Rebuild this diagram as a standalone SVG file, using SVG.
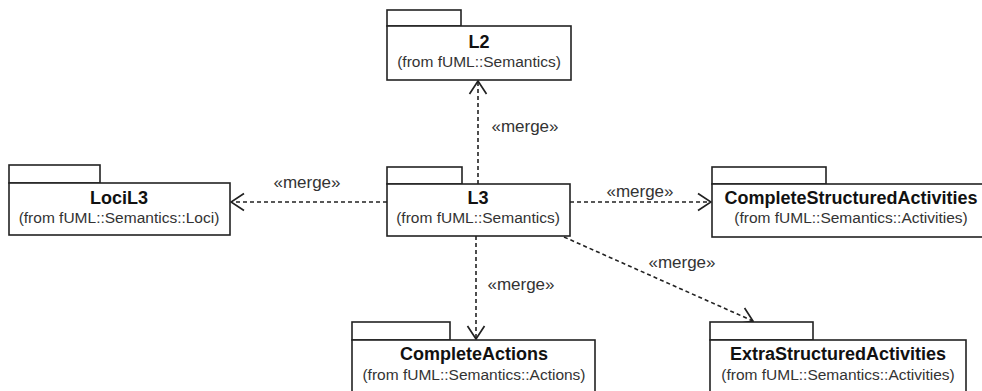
<svg xmlns="http://www.w3.org/2000/svg" width="982" height="391" viewBox="0 0 982 391">
<defs>
<marker id="open" viewBox="0 0 15 20" refX="14" refY="10" markerWidth="15" markerHeight="20" markerUnits="userSpaceOnUse" orient="auto">
<path d="M1,1.5 L14,10 L1,18.5" fill="none" stroke="#222" stroke-width="1.7"/>
</marker>
</defs>
<style>
.box{fill:#fff;stroke:#222;stroke-width:1.6}
.t{font-family:"Liberation Sans",Arial,sans-serif;font-size:18px;font-weight:bold;fill:#111;text-anchor:middle}
.s{font-family:"Liberation Sans",Arial,sans-serif;font-size:15.5px;fill:#333;text-anchor:middle}
.lbl{font-family:"Liberation Sans",Arial,sans-serif;font-size:17px;fill:#333;text-anchor:middle}
.dep{fill:none;stroke:#222;stroke-width:1.6;stroke-dasharray:4 3;marker-end:url(#open)}
</style>
<rect width="982" height="391" fill="#fff"/>
<g id="connectors">
<line class="dep" x1="478" y1="184" x2="478" y2="81"/>
<text class="lbl" x="525" y="132">«merge»</text>
<line class="dep" x1="387" y1="202" x2="231" y2="202"/>
<text class="lbl" x="307" y="188">«merge»</text>
<line class="dep" x1="570" y1="202" x2="711" y2="202"/>
<text class="lbl" x="640" y="197">«merge»</text>
<line class="dep" x1="476" y1="236" x2="476" y2="339"/>
<text class="lbl" x="521" y="290">«merge»</text>
<line class="dep" x1="564" y1="237" x2="753" y2="321"/>
<text class="lbl" x="682" y="268">«merge»</text>
</g>
<g id="L2">
<rect class="box" x="387" y="10" width="74" height="16"/>
<rect class="box" x="387" y="26" width="184" height="54"/>
<text class="t" x="479" y="48">L2</text>
<text class="s" x="479" y="67">(from fUML::Semantics)</text>
</g>
<g id="LociL3">
<rect class="box" x="9" y="165" width="91" height="18"/>
<rect class="box" x="9" y="183" width="221" height="52"/>
<text class="t" x="119" y="204">LociL3</text>
<text class="s" x="119" y="223">(from fUML::Semantics::Loci)</text>
</g>
<g id="L3">
<rect class="box" x="387" y="167" width="75" height="17"/>
<rect class="box" x="387" y="184" width="183" height="52"/>
<text class="t" x="478" y="204">L3</text>
<text class="s" x="478" y="223">(from fUML::Semantics)</text>
</g>
<g id="CompleteStructuredActivities">
<rect class="box" x="712" y="167" width="114" height="17"/>
<rect class="box" x="712" y="184" width="280" height="53"/>
<text class="t" x="851" y="204">CompleteStructuredActivities</text>
<text class="s" x="851" y="223">(from fUML::Semantics::Activities)</text>
</g>
<g id="CompleteActions">
<rect class="box" x="352" y="322" width="98" height="18"/>
<rect class="box" x="352" y="340" width="243" height="60"/>
<text class="t" x="474" y="360">CompleteActions</text>
<text class="s" x="474" y="380">(from fUML::Semantics::Actions)</text>
</g>
<g id="ExtraStructuredActivities">
<rect class="box" x="710" y="322" width="103" height="18"/>
<rect class="box" x="710" y="340" width="256" height="60"/>
<text class="t" x="838" y="360">ExtraStructuredActivities</text>
<text class="s" x="838" y="380">(from fUML::Semantics::Activities)</text>
</g>
</svg>
